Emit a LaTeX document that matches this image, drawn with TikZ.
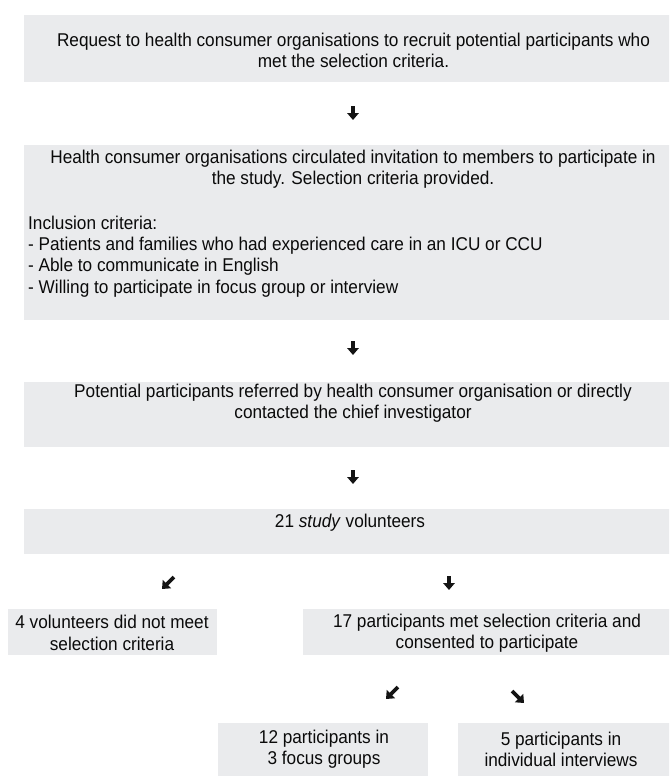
\documentclass[tikz,border=0pt]{standalone}
\usepackage{fontspec}
\setmainfont{Liberation Sans}[FakeStretch=0.93]
\usetikzlibrary{arrows.meta}
\definecolor{boxgray}{HTML}{EAEBED}
\tikzset{
  box/.style={fill=boxgray, draw=none, inner sep=0pt, anchor=north west},
  txt/.style={font=\fontsize{18.5}{21.3}\selectfont, inner sep=0pt, text=black!96},
  arr/.style={line width=3.8pt, -{Triangle[width=11.5pt,length=7pt]}, black!92}
}
\begin{document}
\begin{tikzpicture}[x=1pt,y=-1pt]
\useasboundingbox (0,0) rectangle (669,776);
\begin{scope}
\clip (0,0) rectangle (669,776);
% main column boxes
\node[box, minimum width=661pt, minimum height=67pt]  (b1) at (24,15)  {};
\node[box, minimum width=661pt, minimum height=175pt] (b2) at (24,145) {};
\node[box, minimum width=661pt, minimum height=65pt]  (b3) at (24,382) {};
\node[box, minimum width=661pt, minimum height=45pt]  (b4) at (24,509) {};
% split boxes
\node[box, minimum width=209pt, minimum height=46pt]  (b5) at (8,609)   {};
\node[box, minimum width=383pt, minimum height=46pt]  (b6) at (303,609) {};
\node[box, minimum width=210pt, minimum height=60pt]  (b7) at (218,723) {};
\node[box, minimum width=227pt, minimum height=60pt]  (b8) at (458,723) {};
\end{scope}
% texts
\node[txt, align=center] (t1) at (353.5,50.5) {Request to health consumer organisations to recruit potential participants who\\met the selection criteria.};
\node[txt, align=center] (t2) at (353,169) {Health consumer organisations circulated invitation to members to participate in\\the study. Selection criteria provided.};
\node[txt, align=left, anchor=west] (t2b) at (28,256.5) {Inclusion criteria:\\- Patients and families who had experienced care in an ICU or CCU\\- Able to communicate in English\\- Willing to participate in focus group or interview};
\node[txt, align=center] (t3) at (353,403.5) {Potential participants referred by health consumer organisation or directly\\contacted the chief investigator};
\node[txt] (t4) at (350,523) {21 \textit{study} volunteers};
\node[txt, align=center] (t5) at (112,633) {4 volunteers did not meet\\selection criteria};
\node[txt, align=center] (t6) at (487,633) {17 participants met selection criteria and\\consented to participate};
\node[txt, align=center] (t7) at (324,749.5) {12 participants in\\3 focus groups};
\node[txt, align=center] (t8) at (561,749.5) {5 participants in\\individual interviews};
% arrow glyphs between the stages
\coordinate (a1s) at (353,106); \coordinate (a1e) at (353,120);
\coordinate (a2s) at (353,341); \coordinate (a2e) at (353,355);
\coordinate (a3s) at (353,470); \coordinate (a3e) at (353,484);
\coordinate (a4s) at (174,577); \coordinate (a4e) at (162,589);
\coordinate (a5s) at (449,576); \coordinate (a5e) at (449,590);
\coordinate (a6s) at (398,687); \coordinate (a6e) at (386,699);
\coordinate (a7s) at (512,691); \coordinate (a7e) at (524,703);
\foreach \i in {1,...,7} { \draw[arr] (a\i s) -- (a\i e); }
\end{tikzpicture}
\end{document}
